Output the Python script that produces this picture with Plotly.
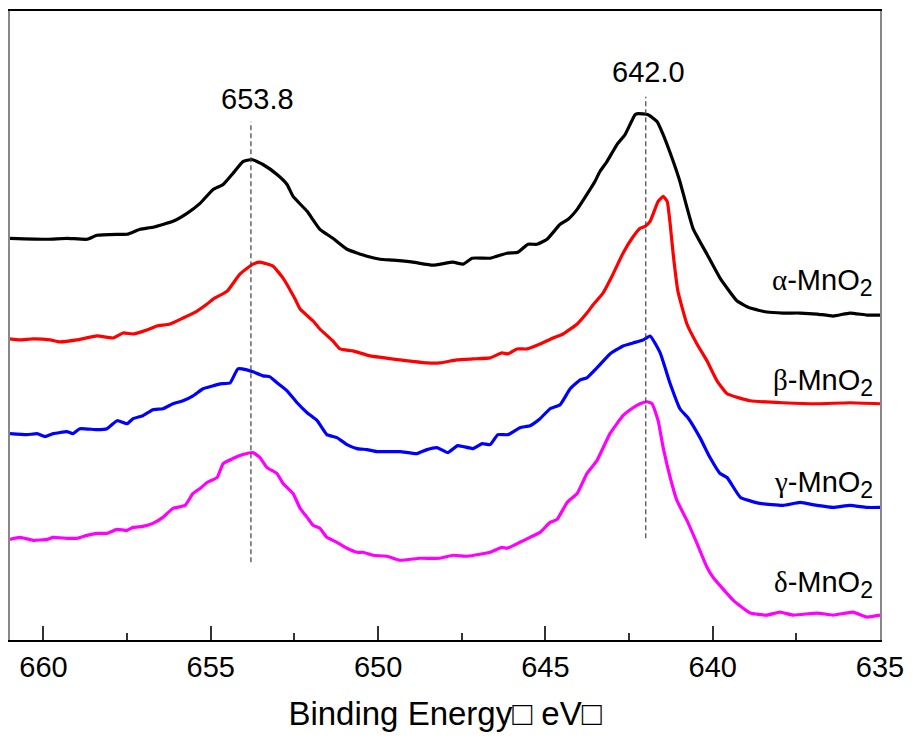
import plotly.graph_objects as go

# ---- data (binding energy in eV, intensity in arbitrary units) ----
alpha_E = [661.00, 659.89, 659.30, 658.70, 658.40, 657.80, 657.50, 657.11, 656.73, 656.13,
           655.71, 655.32, 654.93, 654.63, 654.34, 654.04, 653.77, 653.44, 653.02, 652.72,
           652.54, 652.12, 651.74, 651.35, 650.93, 650.33, 649.94, 649.55, 648.96, 648.36,
           647.76, 647.46, 647.19, 646.65, 646.15, 645.82, 645.52, 645.25, 644.95, 644.56,
           644.32, 644.05, 643.76, 643.52, 643.37, 643.16, 642.86, 642.62, 642.32, 642.23,
           641.93, 641.66, 641.48, 641.21, 640.98, 640.59, 640.17, 639.78, 639.27, 638.88,
           638.38, 637.90, 637.39, 636.88, 636.40, 635.90, 635.39, 635.00]
alpha_I = [403, 402, 403, 402, 406, 407, 407, 412, 414, 420,
           428, 438, 452, 457, 468, 480, 482, 477, 467, 457,
           445, 430, 412, 403, 392, 385, 382, 381, 379, 376,
           379, 377, 383, 383, 388, 389, 397, 397, 402, 417,
           422, 432, 447, 460, 470, 480, 497, 507, 527, 528,
           527, 520, 507, 483, 460, 413, 387, 363, 340, 333,
           329, 328, 328, 327, 325, 328, 326, 326]

beta_E = [661.00, 660.70, 660.31, 659.80, 659.51, 659.00, 658.40, 657.92, 657.62, 657.32,
          656.91, 656.61, 656.22, 655.83, 655.41, 655.11, 654.93, 654.51, 654.13, 653.74,
          653.53, 653.14, 652.84, 652.48, 652.33, 651.94, 651.74, 651.35, 651.14, 650.75,
          650.24, 649.34, 648.54, 648.15, 647.65, 647.16, 646.65, 646.30, 646.12, 645.85,
          645.55, 645.16, 644.77, 644.47, 644.05, 643.76, 643.58, 643.28, 642.98, 642.68,
          642.41, 642.17, 642.02, 641.87, 641.63, 641.48, 641.36, 641.27, 641.18, 641.04,
          640.77, 640.47, 640.17, 639.87, 639.57, 638.88, 637.90, 636.88, 635.90, 635.00]
beta_I = [302, 301, 302, 301, 299, 301, 305, 303, 308, 307,
          311, 315, 317, 323, 330, 337, 342, 350, 367, 377,
          379, 375, 363, 342, 332, 320, 312, 300, 292, 290,
          285, 281, 278, 278, 281, 282, 283, 288, 287, 292,
          292, 297, 303, 307, 317, 328, 336, 348, 367, 388,
          403, 413, 415, 420, 440, 445, 440, 417, 387, 350,
          317, 297, 280, 260, 247, 240, 238, 237, 238, 237]

gamma_E = [661.00, 660.49, 660.19, 659.95, 659.71, 659.30, 659.12, 658.91, 658.40, 658.10,
           657.80, 657.50, 657.32, 657.03, 656.73, 656.43, 656.13, 655.83, 655.53, 655.23,
           654.93, 654.72, 654.42, 654.19, 653.92, 653.74, 653.44, 653.23, 653.02, 652.72,
           652.42, 652.12, 651.82, 651.53, 651.23, 650.93, 650.63, 650.33, 650.03, 649.34,
           648.84, 648.54, 648.24, 647.91, 647.62, 647.16, 646.89, 646.65, 646.42, 646.12,
           645.76, 645.46, 645.16, 644.86, 644.56, 644.26, 643.96, 643.76, 643.46, 643.07,
           642.68, 642.38, 642.08, 641.87, 641.57, 641.27, 640.98, 640.74, 640.38, 640.08,
           639.78, 639.57, 639.17, 638.58, 637.90, 637.39, 636.88, 636.40, 635.90, 635.39,
           635.00]
gamma_I = [207, 206, 207, 204, 207, 209, 207, 212, 211, 212,
           220, 217, 222, 225, 231, 232, 237, 240, 245, 252,
           255, 257, 258, 272, 271, 269, 265, 264, 258, 250,
           238, 228, 220, 206, 203, 196, 192, 191, 189, 189,
           187, 191, 193, 188, 195, 192, 197, 196, 206, 206,
           213, 215, 222, 232, 236, 252, 261, 263, 273, 287,
           295, 298, 301, 305, 288, 257, 232, 223, 203, 183,
           167, 163, 143, 137, 135, 138, 135, 133, 135, 133,
           133]

delta_E = [661.00, 660.70, 660.31, 659.89, 659.71, 659.30, 659.00, 658.70, 658.40, 658.10,
           657.80, 657.50, 657.32, 657.03, 656.73, 656.43, 656.13, 655.77, 655.53, 655.32,
           655.11, 654.81, 654.63, 654.34, 654.04, 653.74, 653.53, 653.32, 653.02, 652.84,
           652.54, 652.33, 652.12, 651.94, 651.74, 651.53, 651.23, 650.93, 650.63, 650.45,
           650.15, 649.73, 649.34, 648.75, 648.15, 647.76, 647.34, 646.95, 646.65, 646.30,
           646.15, 645.76, 645.46, 645.16, 644.86, 644.65, 644.35, 644.05, 643.76, 643.46,
           643.07, 642.68, 642.38, 642.17, 641.96, 641.81, 641.63, 641.48, 641.27, 641.07,
           640.77, 640.47, 640.17, 639.99, 639.39, 638.88, 638.38, 637.99, 637.60, 636.88,
           636.40, 635.81, 635.39, 635.00]
delta_I = [101, 103, 100, 101, 103, 102, 102, 105, 107, 107,
           111, 110, 113, 114, 117, 123, 132, 135, 147, 152,
           158, 163, 177, 182, 186, 188, 183, 173, 167, 157,
           147, 132, 123, 115, 112, 103, 98, 92, 88, 88,
           85, 84, 80, 82, 82, 85, 84, 86, 88, 93,
           92, 98, 103, 108, 118, 121, 138, 147, 167, 180,
           207, 225, 233, 237, 239, 237, 220, 193, 163, 140,
           120, 97, 73, 63, 40, 27, 25, 28, 25, 27,
           25, 28, 23, 25]

series_greek = ["α", "β", "γ", "δ"]
series_suffix = "-MnO"
series_sub = "2"
series_colors = ["#000000", "#ff0000", "#0000ff", "#ff00ff"]
label_levels = [359, 258, 156, 56]

peak_positions = [653.8, 642.0]
peak_labels = ["653.8", "642.0"]
peak_line_low = [78, 102]
peak_line_high = [520, 545]
peak_label_x = [653.6, 641.93]
peak_label_y = [543, 570]

x_ticks = [660, 655, 650, 645, 640, 635]
x_minor_ticks = [657.5, 652.5, 647.5, 642.5, 637.5]

FONT = "Liberation Sans, Arial, sans-serif"

fig = go.Figure()

for (E, I), col in zip([(alpha_E, alpha_I), (beta_E, beta_I), (gamma_E, gamma_I), (delta_E, delta_I)],
                       series_colors):
    fig.add_trace(go.Scatter(x=E, y=I, mode="lines",
                             line=dict(color=col, width=3.2, shape="spline", smoothing=0.4),
                             showlegend=False, hoverinfo="skip"))

for p, lo, hi in zip(peak_positions, peak_line_low, peak_line_high):
    fig.add_trace(go.Scatter(x=[p, p], y=[lo, hi], mode="lines",
                             line=dict(color="#444444", width=1.2, dash="5px,3px"),
                             showlegend=False, hoverinfo="skip"))

for txt, xx, yy in zip(peak_labels, peak_label_x, peak_label_y):
    fig.add_annotation(x=xx, y=yy, text=txt, showarrow=False,
                       font=dict(family=FONT, size=29, color="black"),
                       xanchor="center", yanchor="middle")

for g, lv in zip(series_greek, label_levels):
    txt = ("<span style='font-family:Liberation Serif, Times New Roman, serif'>" + g +
           "</span>" + series_suffix +
           "<sub><span style='font-size:23px'>" + series_sub + "</span></sub>")
    fig.add_annotation(x=635.15, y=lv, text=txt, showarrow=False,
                       font=dict(family=FONT, size=29, color="black"),
                       xanchor="right", yanchor="middle")

# page body has an 8px margin, so the figure is sized/offset to land on the reference pixels
fig.update_layout(
    width=905, height=730,
    margin=dict(l=2, r=33, t=1, b=98),
    paper_bgcolor="white", plot_bgcolor="white",
    font=dict(family=FONT, color="black"),
)

fig.update_xaxes(
    range=[661, 635],
    tickmode="array", tickvals=x_ticks, ticktext=[str(t) for t in x_ticks],
    ticks="inside", ticklen=14, tickwidth=1.5, tickcolor="#333333",
    minor=dict(ticks="inside", ticklen=7, tickwidth=1.5, tickcolor="#333333",
               tickmode="array", tickvals=x_minor_ticks),
    showline=True, linecolor="black", linewidth=1.5, mirror=True,
    showgrid=False, zeroline=False,
    tickfont=dict(family=FONT, size=29, color="black"),
    title=dict(text="Binding Energy□ eV□", font=dict(family=FONT, size=33, color="black"),
               standoff=20),
)

fig.update_yaxes(
    range=[0, 631],
    showticklabels=False, ticks="", showgrid=False, zeroline=False,
    showline=True, linecolor="#888888", linewidth=1.5, mirror=True,
)

fig.write_html("out.html")
